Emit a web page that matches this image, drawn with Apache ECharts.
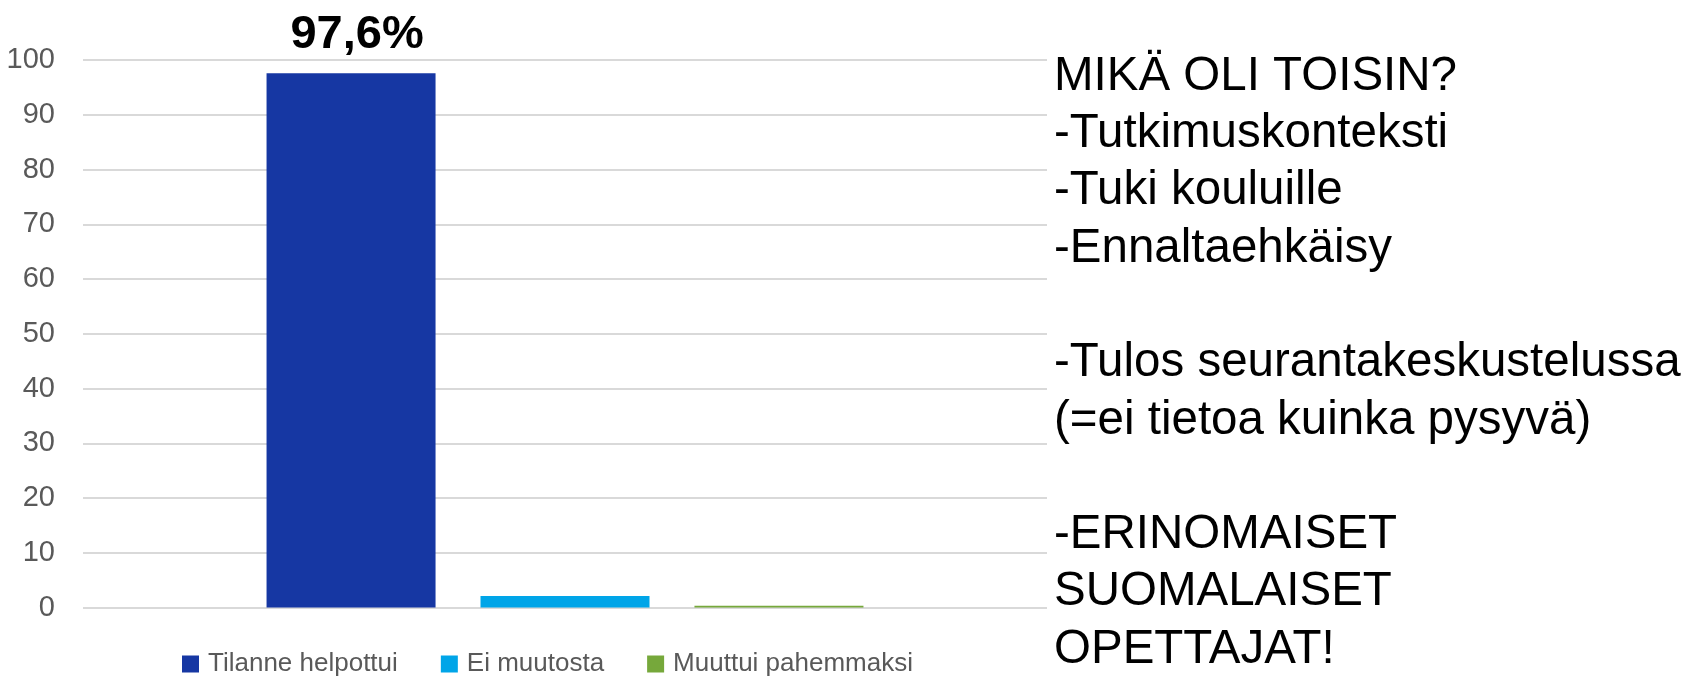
<!DOCTYPE html>
<html>
<head>
<meta charset="utf-8">
<script src="https://cdn.jsdelivr.net/npm/echarts@6/dist/echarts.min.js"></script>
<style>
  html, body { margin: 0; padding: 0; background: #fff; }
  #chart { width: 1701px; height: 681px; }
</style>
</head>
<body>
<div id="chart"></div>
<script>
// data
var categories = ['Kaikki'];
var seriesNames = ['Tilanne helpottui', 'Ei muutosta', 'Muuttui pahemmaksi'];
var seriesValues = [97.6, 2.1, 0.3];
var seriesColors = ['#1637a3', '#00a5e8', '#76a83b'];
var yTicks = [0, 10, 20, 30, 40, 50, 60, 70, 80, 90, 100];
var noteLines = [
  'MIKÄ OLI TOISIN?',
  '-Tutkimuskonteksti',
  '-Tuki kouluille',
  '-Ennaltaehkäisy',
  '',
  '-Tulos seurantakeskustelussa',
  '(=ei tietoa kuinka pysyvä)',
  '',
  '-ERINOMAISET',
  'SUOMALAISET',
  'OPETTAJAT!'
];

var chart = echarts.init(document.getElementById('chart'));

var series = seriesNames.map(function (name, i) {
  return {
    name: name,
    type: 'bar',
    data: [seriesValues[i]],
    barWidth: 169,
    barGap: '26.6%',
    itemStyle: { color: seriesColors[i] },
    label: {
      show: i === 0,
      position: 'top',
      distance: 15,
      offset: [6, 0],
      formatter: function (p) { return String(p.value).replace('.', ',') + '%'; },
      fontFamily: 'Liberation Sans, Arial, sans-serif',
      fontWeight: 'bold',
      fontSize: 47,
      color: '#000'
    }
  };
});

// tekstit oikealla
var graphics = [];
noteLines.forEach(function (line, i) {
  if (!line) return;
  graphics.push({
    type: 'text',
    left: 1054,
    top: 86.7 + i * 57.3 - 34,
    style: {
      text: line,
      fontFamily: 'Liberation Sans, Arial, sans-serif',
      fontSize: 47.5,
      fill: '#000'
    }
  });
});

chart.setOption({
  animation: false,
  grid: { left: 83, right: 654, top: 60, bottom: 73.5 },
  legend: {
    data: seriesNames,
    left: 177,
    top: 646,
    itemWidth: 17,
    itemHeight: 17,
    itemGap: 43,
    icon: 'rect',
    textStyle: {
      fontFamily: 'Liberation Sans, Arial, sans-serif',
      fontSize: 26,
      color: '#595959',
      padding: [0, 0, 0, 4]
    }
  },
  xAxis: {
    type: 'category',
    data: categories,
    axisLine: { show: false },
    axisTick: { show: false },
    axisLabel: { show: false }
  },
  yAxis: {
    type: 'value',
    min: yTicks[0],
    max: yTicks[yTicks.length - 1],
    interval: 10,
    axisLine: { show: false },
    axisTick: { show: false },
    axisLabel: {
      margin: 28,
      fontFamily: 'Liberation Sans, Arial, sans-serif',
      fontSize: 29,
      color: '#595959'
    },
    splitLine: { lineStyle: { color: '#d9d9d9', width: 2 } }
  },
  series: series,
  graphic: graphics
});
</script>
</body>
</html>
